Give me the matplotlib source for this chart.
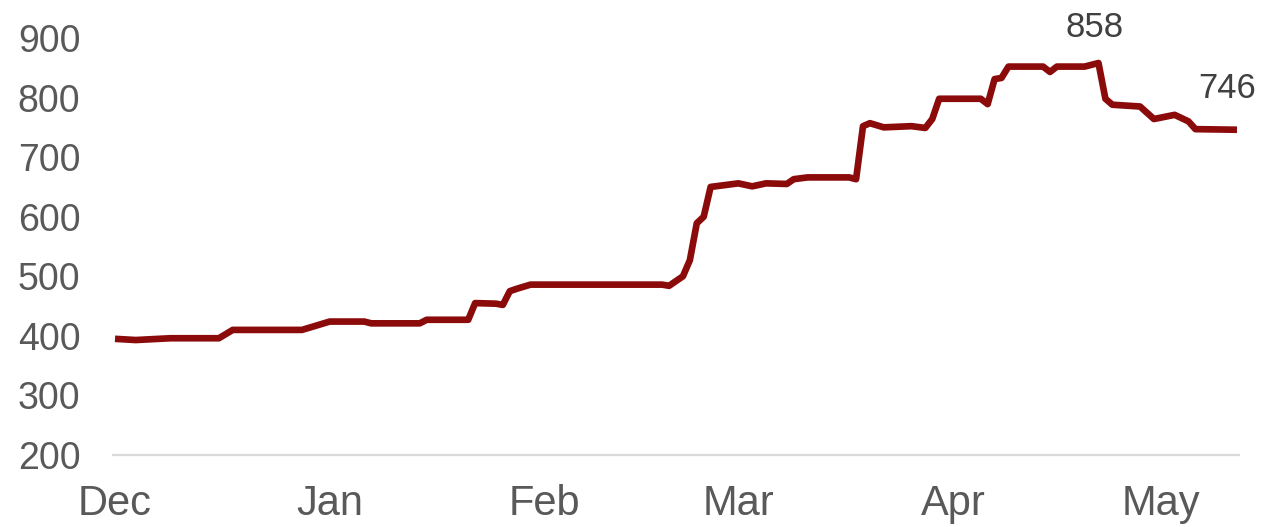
import numpy as np
import pandas as pd
import matplotlib
matplotlib.use('Agg')
import matplotlib.pyplot as plt
import matplotlib.dates as mdates

# readings taken off the chart (date, value)
dates = ['2021-12-01', '2021-12-04', '2021-12-09', '2021-12-16', '2021-12-18',
         '2021-12-28', '2022-01-01', '2022-01-06', '2022-01-07', '2022-01-14',
         '2022-01-15', '2022-01-21', '2022-01-22', '2022-01-25', '2022-01-26',
         '2022-01-27', '2022-01-28', '2022-01-30', '2022-02-18', '2022-02-19',
         '2022-02-21', '2022-02-22', '2022-02-23', '2022-02-24', '2022-02-25',
         '2022-03-01', '2022-03-03', '2022-03-05', '2022-03-08', '2022-03-09',
         '2022-03-11', '2022-03-17', '2022-03-18', '2022-03-19', '2022-03-20',
         '2022-03-22', '2022-03-26', '2022-03-28', '2022-03-29', '2022-03-30',
         '2022-04-05', '2022-04-06', '2022-04-07', '2022-04-08', '2022-04-09',
         '2022-04-14', '2022-04-15', '2022-04-16', '2022-04-20', '2022-04-22',
         '2022-04-23', '2022-04-24', '2022-04-28', '2022-04-30', '2022-05-03',
         '2022-05-05', '2022-05-06', '2022-05-12']
values = [395, 393, 396, 396, 410,
          410, 424, 424, 421, 421,
          427, 427, 455, 454, 452,
          475, 479, 486, 486, 484,
          500, 527, 589, 600, 650,
          656, 651, 656, 655, 663,
          666, 666, 663, 752, 757,
          750, 752, 749, 764, 798,
          798, 789, 831, 833, 852,
          852, 843, 852, 852, 858,
          798, 788, 785, 764, 771,
          760, 747, 746]

month_ticks = ['2021-12-01', '2022-01-01', '2022-02-01', '2022-03-01', '2022-04-01', '2022-05-01']
month_labels = ['Dec', 'Jan', 'Feb', 'Mar', 'Apr', 'May']
y_ticks = [200, 300, 400, 500, 600, 700, 800, 900]

x = pd.to_datetime(dates)
grey = '#595959'

plt.rcParams['font.family'] = ['Liberation Sans', 'DejaVu Sans']

fig = plt.figure(figsize=(12.61, 5.27), dpi=100)
ax = fig.add_axes([115 / 1261, 72 / 527, (1237 - 115) / 1261, (455 - 38) / 527])

ax.plot(x, values, color='#8b0a0a', lw=4.8, solid_joinstyle='round',
        solid_capstyle='butt', clip_on=False, zorder=3)

ax.set_ylim(200, 900)
ax.set_xlim(x[0], x[-1])
ax.set_yticks(y_ticks)
ax.set_yticklabels([str(v) for v in y_ticks])
ax.set_xticks(pd.to_datetime(month_ticks))
ax.set_xticklabels(month_labels)

ax.tick_params(axis='y', length=0, pad=25, labelsize=27, labelcolor=grey)
ax.tick_params(axis='x', length=0, pad=21, labelsize=30, labelcolor=grey)

for s in ['top', 'right', 'left']:
    ax.spines[s].set_visible(False)
ax.spines['bottom'].set_color('#d9d9d9')
ax.spines['bottom'].set_linewidth(1.6)
ax.spines['bottom'].set_bounds(mdates.date2num(x[0]) - 0.3, mdates.date2num(x[-1]) + 0.3)

# labels on the peak and the last value
i_max = int(np.argmax(values))
ax.annotate(str(values[i_max]), (x[i_max], values[i_max]), xytext=(-3, 14),
            textcoords='offset points', ha='center', va='bottom',
            fontsize=25, color='#404040')
ax.annotate(str(values[-1]), (x[-1], values[-1]), xytext=(-7, 18),
            textcoords='offset points', ha='center', va='bottom',
            fontsize=25, color='#404040')

fig.savefig('out.png', dpi=100)
